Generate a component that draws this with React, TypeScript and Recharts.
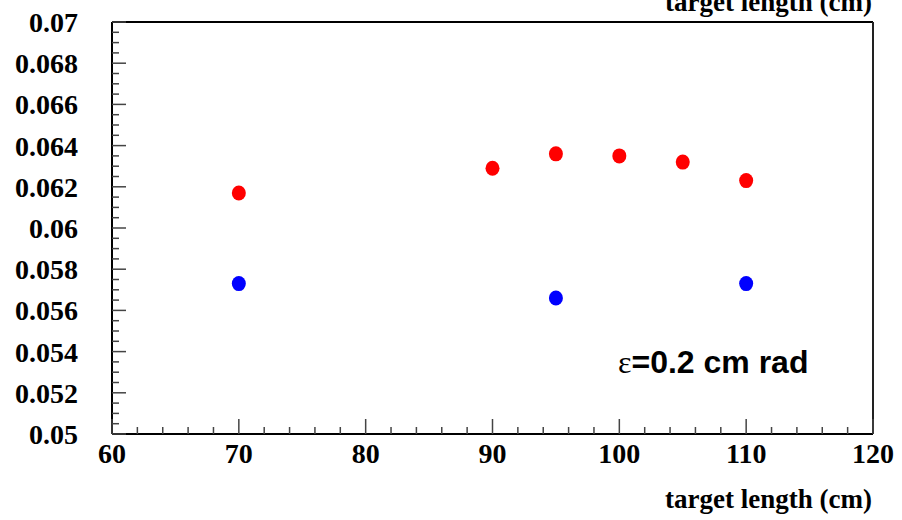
import React from 'react';
import {
  ScatterChart,
  Scatter,
  XAxis,
  YAxis,
  ReferenceLine,
} from 'recharts';

// target length (cm)
const redLengths = [70, 90, 95, 100, 105, 110];
const redValues = [0.0617, 0.0629, 0.0636, 0.0635, 0.0632, 0.0623];

const blueLengths = [70, 95, 110];
const blueValues = [0.0573, 0.0566, 0.0573];

const xMajorTicks = [60, 70, 80, 90, 100, 110, 120];
const yMajorTicks = [0.05, 0.052, 0.054, 0.056, 0.058, 0.06, 0.062, 0.064, 0.066, 0.068, 0.07];

const xTitle = 'target length (cm)';
const annotation = '=0.2 cm rad';

const redData = redLengths.map((x, i) => ({ x, y: redValues[i] }));
const blueData = blueLengths.map((x, i) => ({ x, y: blueValues[i] }));

// minor ticks: 5 subdivisions on x, 4 on y
const xTicks: number[] = [];
xMajorTicks.forEach((t, i) => {
  if (i === xMajorTicks.length - 1) { xTicks.push(t); return; }
  const step = (xMajorTicks[i + 1] - t) / 5;
  for (let k = 0; k < 5; k++) xTicks.push(t + k * step);
});
const yTicks: number[] = [];
yMajorTicks.forEach((t, i) => {
  if (i === yMajorTicks.length - 1) { yTicks.push(t); return; }
  const step = (yMajorTicks[i + 1] - t) / 4;
  for (let k = 0; k < 4; k++) yTicks.push(t + k * step);
});

const isMajor = (list: number[], v: number) => list.some((m) => Math.abs(m - v) < 1e-9);

const serif = '"Liberation Serif", "Times New Roman", serif';
const sans = '"Liberation Sans", Arial, sans-serif';

const XTick = (props: any) => {
  const { x, y, payload } = props;
  const major = isMajor(xMajorTicks, payload.value);
  return (
    <g>
      <line x1={x} x2={x} y1={y} y2={y - (major ? 15 : 7)} stroke="#444" strokeWidth={1.5} />
      {major && (
        <text x={x} y={y + 29} textAnchor="middle" fontFamily={serif} fontWeight="bold" fontSize={28} fill="#000">
          {payload.value}
        </text>
      )}
    </g>
  );
};

const YTick = (props: any) => {
  const { x, y, payload } = props;
  const major = isMajor(yMajorTicks, payload.value);
  return (
    <g>
      <line x1={x} x2={x + (major ? 14 : 7)} y1={y} y2={y} stroke="#444" strokeWidth={1.5} />
      {major && (
        <text x={x - 34} y={y + 10} textAnchor="end" fontFamily={serif} fontWeight="bold" fontSize={28} fill="#000">
          {Number(payload.value.toFixed(4)).toString()}
        </text>
      )}
    </g>
  );
};

const Dot = (color: string) => (props: any) => (
  <ellipse cx={props.cx} cy={props.cy} rx={7} ry={7.5} fill={color} />
);

export default function App() {
  return (
    <div style={{ position: 'absolute', left: 0, top: 0, width: 902, height: 520, background: '#fff' }}>
      <ScatterChart width={902} height={520} margin={{ top: 22, right: 29, bottom: 0, left: 0 }}>
        <XAxis
          type="number"
          dataKey="x"
          domain={[60, 120]}
          ticks={xTicks}
          interval={0}
          height={86}
          tickSize={0}
          tickMargin={0}
          tickLine={false}
          axisLine={{ stroke: '#000', strokeWidth: 2 }}
          tick={<XTick />}
        />
        <YAxis
          type="number"
          dataKey="y"
          domain={[0.05, 0.07]}
          ticks={yTicks}
          interval={0}
          width={112}
          tickSize={0}
          tickMargin={0}
          tickLine={false}
          axisLine={{ stroke: '#000', strokeWidth: 2 }}
          tick={<YTick />}
        />
        <ReferenceLine y={0.07} stroke="#000" strokeWidth={2} />
        <ReferenceLine x={120} stroke="#222" strokeWidth={2} />
        <Scatter data={redData} fill="#ff0000" shape={Dot('#ff0000')} isAnimationActive={false} />
        <Scatter data={blueData} fill="#0000ff" shape={Dot('#0000ff')} isAnimationActive={false} />
      </ScatterChart>
      <svg width={902} height={520} style={{ position: 'absolute', left: 0, top: 0, pointerEvents: 'none' }}>
        <text x={872} y={11} textAnchor="end" fontFamily={serif} fontWeight="bold" fontSize={27} fill="#000">
          {xTitle}
        </text>
        <text x={872} y={508} textAnchor="end" fontFamily={serif} fontWeight="bold" fontSize={27} fill="#000">
          {xTitle}
        </text>
        <text x={618} y={373} fontSize={32} fill="#000">
          <tspan fontFamily={serif}>ε</tspan>
          <tspan fontFamily={sans} fontWeight="bold">{annotation}</tspan>
        </text>
      </svg>
    </div>
  );
}
